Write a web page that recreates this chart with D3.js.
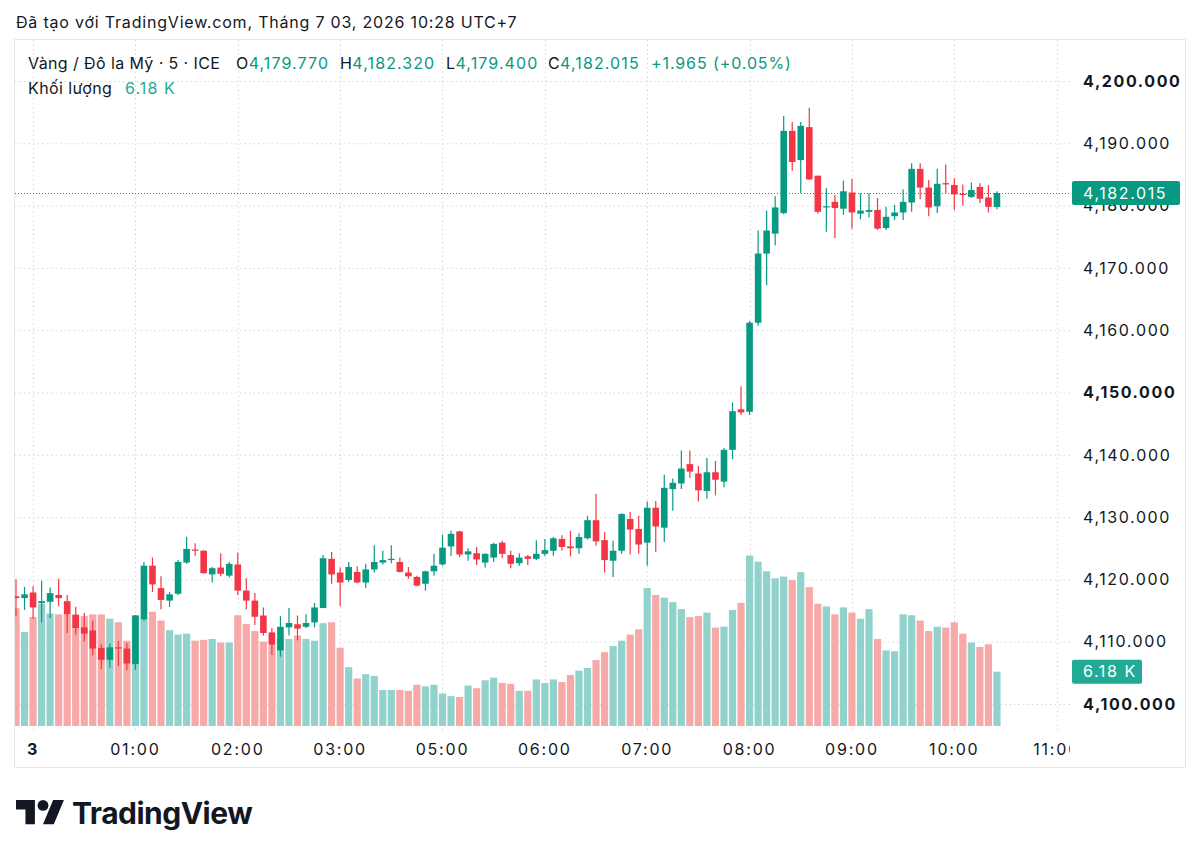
<!DOCTYPE html>
<html>
<head>
<meta charset="utf-8">
<script src="https://cdn.jsdelivr.net/npm/d3@7"></script>
<style>
  body { margin: 0; background: #fff; }
  svg { display: block; font-family: Inter, "Noto Sans", sans-serif; }
</style>
</head>
<body>
<div id="chart"></div>
<script>
// Data: 5-minute candles, Gold / USD, ICE
var open = [4117.3, 4117.0, 4117.9, 4116.2, 4116.4, 4117.5, 4116.5, 4114.3, 4112.3, 4111.8,
            4109.0, 4107.1, 4109.1, 4108.9, 4106.4, 4113.6, 4122.2, 4118.6, 4116.6, 4117.7,
            4122.7, 4124.8, 4124.6, 4120.8, 4121.9, 4120.6, 4122.4, 4118.2, 4116.6, 4114.2,
            4111.5, 4108.6, 4112.3, 4112.8, 4112.4, 4113.1, 4115.4, 4123.3, 4121.1, 4119.9,
            4121.2, 4119.5, 4121.6, 4122.7, 4123.1, 4122.8, 4121.1, 4120.4, 4119.3, 4121.3,
            4122.4, 4125.3, 4127.7, 4124.0, 4124.2, 4122.7, 4123.5, 4125.9, 4123.9, 4122.6,
            4123.7, 4123.3, 4124.1, 4124.6, 4126.5, 4125.3, 4125.0, 4126.6, 4129.5, 4126.3,
            4123.0, 4124.6, 4129.7, 4128.1, 4125.9, 4131.5, 4128.3, 4134.5, 4135.4, 4138.5,
            4137.0, 4134.2, 4137.2, 4135.7, 4140.8, 4147.3, 4146.9, 4161.2, 4172.3, 4175.5,
            4178.8, 4192.0, 4187.3, 4192.6, 4184.8, 4179.7, 4180.6, 4179.5, 4182.1, 4178.7,
            4179.0, 4179.3, 4176.4, 4178.3, 4178.9, 4180.5, 4185.9, 4182.9, 4179.9, 4183.6,
            4183.3, 4181.9, 4181.4, 4183.0, 4181.3, 4179.770];
var high = [4120.0, 4118.8, 4118.9, 4119.8, 4118.7, 4120.1, 4117.5, 4115.6, 4114.6, 4113.4,
            4109.6, 4109.7, 4110.1, 4109.8, 4114.3, 4122.8, 4123.5, 4120.5, 4118.0, 4123.1,
            4126.8, 4125.8, 4124.7, 4122.0, 4124.2, 4122.8, 4124.3, 4120.2, 4117.8, 4115.5,
            4112.2, 4114.1, 4115.4, 4114.2, 4114.4, 4116.2, 4123.9, 4124.4, 4121.9, 4122.8,
            4122.1, 4122.5, 4125.5, 4124.6, 4125.5, 4123.5, 4122.0, 4120.6, 4121.4, 4124.1,
            4127.2, 4127.8, 4127.8, 4125.0, 4125.2, 4124.2, 4125.9, 4126.2, 4124.6, 4124.2,
            4123.9, 4126.3, 4126.5, 4126.8, 4127.1, 4127.8, 4127.4, 4130.2, 4133.7, 4127.6,
            4126.2, 4130.6, 4130.8, 4130.2, 4132.5, 4132.6, 4136.8, 4136.2, 4140.7, 4140.7,
            4138.2, 4139.5, 4139.0, 4141.1, 4148.4, 4151.0, 4161.5, 4176.0, 4179.2, 4181.5,
            4194.4, 4193.4, 4193.4, 4195.7, 4184.8, 4182.8, 4181.7, 4184.0, 4184.3, 4182.0,
            4182.0, 4181.2, 4179.8, 4180.1, 4182.6, 4186.8, 4186.8, 4184.1, 4185.9, 4186.6,
            4184.4, 4183.4, 4183.7, 4183.6, 4183.3, 4182.320];
var low = [4114.1, 4115.1, 4113.7, 4113.1, 4113.8, 4115.7, 4111.4, 4111.1, 4110.0, 4107.8,
           4105.6, 4105.8, 4106.1, 4105.4, 4105.5, 4113.4, 4118.0, 4115.2, 4115.6, 4117.5,
           4122.5, 4123.8, 4120.9, 4119.5, 4120.5, 4120.3, 4117.5, 4115.2, 4112.7, 4111.0,
           4107.9, 4107.6, 4111.0, 4110.2, 4112.2, 4112.3, 4115.4, 4119.3, 4115.7, 4119.6,
           4119.4, 4118.6, 4121.1, 4122.4, 4122.6, 4121.1, 4120.1, 4118.9, 4118.2, 4120.6,
           4122.2, 4123.8, 4123.6, 4123.0, 4122.3, 4121.9, 4122.8, 4123.4, 4121.8, 4122.2,
           4122.3, 4123.1, 4123.7, 4123.8, 4124.6, 4123.7, 4124.1, 4126.4, 4125.4, 4121.1,
           4120.4, 4124.1, 4124.0, 4124.1, 4122.2, 4124.4, 4126.0, 4131.0, 4134.5, 4136.3,
           4132.5, 4133.0, 4133.5, 4134.8, 4139.3, 4146.4, 4146.4, 4160.7, 4167.2, 4173.6,
           4178.6, 4185.6, 4182.0, 4184.1, 4178.7, 4175.8, 4174.8, 4178.5, 4176.3, 4177.8,
           4178.1, 4176.1, 4176.1, 4177.7, 4177.7, 4179.0, 4181.0, 4178.3, 4178.8, 4182.0,
           4179.3, 4180.0, 4181.2, 4180.4, 4178.9, 4179.400];
var close = [4117.0, 4117.6, 4115.5, 4116.5, 4117.8, 4117.0, 4114.4, 4112.2, 4111.3, 4108.9,
             4107.1, 4109.1, 4108.9, 4106.5, 4114.2, 4122.2, 4119.2, 4116.7, 4117.6, 4122.8,
             4124.9, 4124.6, 4121.0, 4121.8, 4120.9, 4122.5, 4118.2, 4116.6, 4114.0, 4111.4,
             4109.5, 4112.4, 4113.0, 4112.1, 4113.0, 4115.5, 4123.4, 4120.8, 4119.5, 4122.0,
             4119.5, 4121.6, 4122.8, 4123.1, 4123.3, 4121.2, 4120.5, 4119.0, 4121.3, 4122.2,
             4125.1, 4127.3, 4124.0, 4124.5, 4123.2, 4124.1, 4125.7, 4124.1, 4122.5, 4123.5,
             4123.3, 4124.1, 4124.7, 4126.6, 4125.2, 4125.0, 4126.8, 4129.5, 4126.1, 4123.1,
             4124.6, 4130.5, 4128.0, 4125.6, 4131.5, 4128.5, 4134.7, 4135.5, 4137.8, 4137.3,
             4134.3, 4137.2, 4136.0, 4140.8, 4147.0, 4146.8, 4161.2, 4172.3, 4176.0, 4179.7,
             4192.0, 4187.0, 4192.8, 4184.2, 4179.0, 4179.9, 4179.6, 4182.3, 4178.9, 4179.2,
             4179.3, 4176.3, 4178.2, 4178.9, 4180.6, 4185.9, 4182.9, 4179.7, 4183.5, 4183.4,
             4181.8, 4181.7, 4182.5, 4181.1, 4179.8, 4182.015];
// Volume in thousands
var volume = [13.4, 10.7, 12.4, 13.9, 12.8, 12.7, 12.7, 12.7, 12.5, 12.7,
              12.7, 12.2, 11.8, 9.7, 12.6, 12.2, 13.0, 12.0, 10.9, 10.4,
              10.5, 9.7, 9.8, 9.9, 9.5, 9.5, 12.6, 11.6, 10.8, 9.6,
              9.2, 9.9, 9.9, 10.3, 9.9, 9.7, 11.7, 11.8, 8.9, 6.7,
              5.4, 5.9, 5.7, 4.1, 4.1, 4.1, 4.0, 4.7, 4.5, 4.7,
              3.7, 3.4, 3.3, 4.6, 4.3, 5.2, 5.5, 4.9, 4.8, 4.0,
              4.0, 5.3, 4.9, 5.3, 5.0, 5.8, 6.3, 6.6, 7.5, 8.4,
              9.1, 9.7, 10.4, 11.0, 15.7, 14.9, 14.6, 14.1, 13.3, 12.4,
              12.5, 12.9, 11.2, 11.3, 13.2, 14.0, 19.4, 18.7, 17.6, 16.8,
              17.0, 16.6, 17.5, 15.8, 13.9, 13.6, 12.7, 13.5, 12.9, 12.2,
              13.3, 9.9, 8.6, 8.5, 12.7, 12.6, 12.0, 10.8, 11.3, 11.2,
              11.8, 10.5, 9.5, 9.0, 9.3, 6.18];

// Trading sessions (break 04:00-05:00), time slots every 5 minutes
var sessions = [["23:50", "03:55"], ["05:00", "11:05"]];
var priceTicks = [4100, 4110, 4120, 4130, 4140, 4150, 4160, 4170, 4180, 4190, 4200];
var boldTicks = [4100, 4150, 4200];
var timeTicks = ["00:00", "01:00", "02:00", "03:00", "05:00", "06:00", "07:00", "08:00", "09:00", "10:00", "11:00"];
var timeTickLabels = ["3", "01:00", "02:00", "03:00", "05:00", "06:00", "07:00", "08:00", "09:00", "10:00", "11:00"];
var changeText = "+1.965 (+0.05%)";

var GREEN = "#089981", RED = "#f23645";
var GREEN_V = "#92d2cc", RED_V = "#f7a9a7";
var INK = "#131722";

function toMin(s) { var p = s.split(":"); return +p[0] * 60 + +p[1]; }
function fmt(m) { m = (m + 1440) % 1440; return d3.format("02")(Math.floor(m / 60)) + ":" + d3.format("02")(m % 60); }

var slots = [];
sessions.forEach(function(s) {
  var a = toMin(s[0]), b = toMin(s[1]);
  if (b < a) b += 1440;
  for (var m = a; m <= b; m += 5) slots.push(fmt(m));
});

var bars = open.map(function(o, i) {
  return { t: slots[i], o: o, h: high[i], l: low[i], c: close[i], v: volume[i] };
});

var width = 1200, height = 857;
var plotLeft = 15, plotRight = 1070, plotTop = 40, plotBottom = 730;
var step = 8.53;

var x = d3.scalePoint()
          .domain(slots)
          .range([16, 16 + (slots.length - 1) * step]);

var y = d3.scaleLinear()
          .domain([4100, 4200])
          .range([704, 81]);

var yv = d3.scaleLinear()
           .domain([0, 20])
           .range([726, 726 - 20 * 8.79]);

var svg = d3.select('#chart')
            .append('svg')
            .attr('width', width)
            .attr('height', height);

svg.append('rect').attr('width', width).attr('height', height).attr('fill', '#fff');

// Header line
svg.append('text')
   .attr('x', 16).attr('y', 28)
   .attr('font-size', 16).attr('letter-spacing', 0.8).attr('fill', INK)
   .text('Đã tạo với TradingView.com, Tháng 7 03, 2026 10:28 UTC+7');

// Frame
svg.append('rect')
   .attr('x', 14.5).attr('y', 39.5)
   .attr('width', 1171).attr('height', 728)
   .attr('fill', 'none').attr('stroke', '#e6e8ee');

svg.append('clipPath').attr('id', 'plot')
   .append('rect')
   .attr('x', plotLeft).attr('y', plotTop)
   .attr('width', plotRight - plotLeft).attr('height', plotBottom - plotTop);

var plot = svg.append('g').attr('clip-path', 'url(#plot)');

// Grid
plot.selectAll('line.hgrid')
    .data(priceTicks)
    .enter().append('line')
    .attr('x1', plotLeft).attr('x2', plotRight)
    .attr('y1', function(d) { return y(d) + 0.5; })
    .attr('y2', function(d) { return y(d) + 0.5; })
    .attr('stroke', '#d6d8de').attr('stroke-dasharray', '1.5,3');

plot.selectAll('line.vgrid')
    .data(timeTicks)
    .enter().append('line')
    .attr('x1', function(d) { return Math.round(x(d)) + 0.5; })
    .attr('x2', function(d) { return Math.round(x(d)) + 0.5; })
    .attr('y1', plotTop).attr('y2', plotBottom)
    .attr('stroke', '#d6d8de').attr('stroke-dasharray', '1.5,3');

// Volume
plot.selectAll('rect.vol')
    .data(bars)
    .enter().append('rect')
    .attr('x', function(d) { return x(d.t) - 3.6; })
    .attr('width', 7.2)
    .attr('y', function(d) { return yv(d.v); })
    .attr('height', function(d) { return yv(0) - yv(d.v); })
    .attr('fill', function(d) { return d.c >= d.o ? GREEN_V : RED_V; });

// Candles
var candles = plot.selectAll('g.candle')
                  .data(bars)
                  .enter().append('g');

candles.append('line')
       .attr('x1', function(d) { return x(d.t); })
       .attr('x2', function(d) { return x(d.t); })
       .attr('y1', function(d) { return y(d.h); })
       .attr('y2', function(d) { return y(d.l); })
       .attr('stroke-width', 1.2)
       .attr('stroke', function(d) { return d.c >= d.o ? GREEN : RED; });

candles.append('rect')
       .attr('x', function(d) { return x(d.t) - 3.3; })
       .attr('width', 6.6)
       .attr('y', function(d) { return y(Math.max(d.o, d.c)); })
       .attr('height', function(d) { return Math.max(1, Math.abs(y(d.o) - y(d.c))); })
       .attr('fill', function(d) { return d.c >= d.o ? GREEN : RED; });

// Last price line
var last = bars[bars.length - 1];
plot.append('line')
    .attr('x1', plotLeft).attr('x2', plotRight)
    .attr('y1', Math.round(y(last.c)) + 0.5).attr('y2', Math.round(y(last.c)) + 0.5)
    .attr('stroke', GREEN).attr('stroke-dasharray', '1,2');

// Price axis labels
svg.selectAll('text.price')
   .data(priceTicks)
   .enter().append('text')
   .attr('x', 1083)
   .attr('y', function(d) { return y(d); })
   .attr('dy', '0.36em')
   .attr('font-size', 16)
   .attr('letter-spacing', 1.6)
   .attr('font-weight', function(d) { return boldTicks.indexOf(d) >= 0 ? 700 : 400; })
   .attr('fill', INK)
   .text(function(d) { return d3.format(',.3f')(d); });

// Price tag
svg.append('rect')
   .attr('x', 1072).attr('y', y(last.c) - 12)
   .attr('width', 108).attr('height', 24).attr('rx', 2)
   .attr('fill', GREEN);
svg.append('text')
   .attr('x', 1083).attr('y', y(last.c)).attr('dy', '0.36em')
   .attr('font-size', 16).attr('letter-spacing', 1.6).attr('fill', '#fff')
   .text(d3.format(',.3f')(last.c));

// Volume tag
svg.append('rect')
   .attr('x', 1072).attr('y', yv(last.v) - 12)
   .attr('width', 70).attr('height', 24).attr('rx', 2)
   .attr('fill', '#22ab94');
svg.append('text')
   .attr('x', 1083).attr('y', yv(last.v)).attr('dy', '0.36em')
   .attr('font-size', 16).attr('letter-spacing', 1.6).attr('fill', '#fff')
   .text(last.v + ' K');

// Time axis
svg.append('clipPath').attr('id', 'timeclip')
   .append('rect').attr('x', plotLeft).attr('y', 730).attr('width', plotRight - plotLeft).attr('height', 38);

svg.append('g').attr('clip-path', 'url(#timeclip)')
   .selectAll('text')
   .data(timeTicks)
   .enter().append('text')
   .attr('x', function(d) { return x(d); })
   .attr('y', 755)
   .attr('text-anchor', 'middle')
   .attr('font-size', 16)
   .attr('letter-spacing', 1.8)
   .attr('font-weight', function(d, i) { return i === 0 ? 700 : 400; })
   .attr('fill', INK)
   .text(function(d, i) { return timeTickLabels[i]; });

// Legend
var legend = svg.append('text')
   .attr('y', 69)
   .attr('font-size', 16).attr('fill', INK);
legend.append('tspan').attr('x', 28).attr('letter-spacing', 0.4).text('Vàng / Đô la Mỹ · 5 · ICE');
var ohlc = [['O', last.o, 236], ['H', last.h, 340], ['L', last.l, 446], ['C', last.c, 548]];
ohlc.forEach(function(p) {
  legend.append('tspan').attr('x', p[2]).attr('letter-spacing', 0.4).text(p[0]);
  legend.append('tspan').attr('fill', GREEN).attr('letter-spacing', 1.1).text(d3.format(',.3f')(p[1]));
});
legend.append('tspan').attr('x', 651).attr('fill', GREEN).attr('letter-spacing', 0.9)
      .text(changeText);

var vlegend = svg.append('text')
   .attr('y', 94)
   .attr('font-size', 16).attr('fill', INK);
vlegend.append('tspan').attr('x', 28).attr('letter-spacing', 0.4).text('Khối lượng');
vlegend.append('tspan').attr('x', 125).attr('letter-spacing', 1.1).attr('fill', '#22ab94').text(last.v + ' K');

// Logo
var logo = svg.append('g').attr('transform', 'translate(16,794.6) scale(1.35)').attr('fill', INK);
logo.append('path').attr('d', 'M14 22H7V11H0V4h14v18zM28 22h-8l7.5-18h8L28 22z');
logo.append('circle').attr('cx', 20).attr('cy', 8).attr('r', 4);
svg.append('text')
   .attr('x', 72).attr('y', 824)
   .attr('font-size', 30).attr('font-weight', 700)
   .attr('letter-spacing', -0.5)
   .attr('fill', INK)
   .text('TradingView');
</script>
</body>
</html>
